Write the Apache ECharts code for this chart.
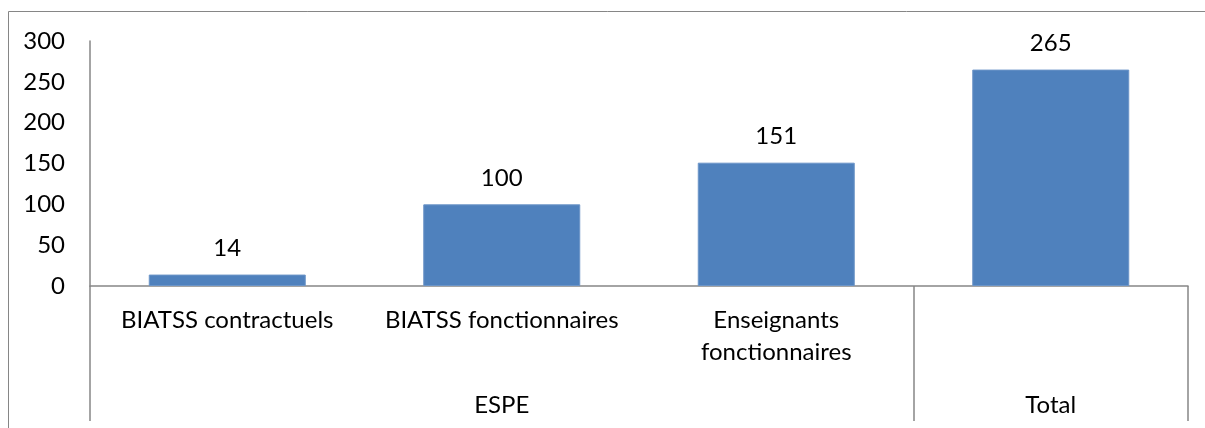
<!DOCTYPE html>
<html>
<head>
<meta charset="utf-8">
<script src="https://cdn.jsdelivr.net/npm/echarts@6/dist/echarts.min.js"></script>
<style>
  html, body { margin: 0; padding: 0; background: #fff; }
  #chart { width: 1205px; height: 428px; }
</style>
</head>
<body>
<div id="chart"></div>
<script>
// données
const categories = ['BIATSS contractuels', 'BIATSS fonctionnaires', 'Enseignants\nfonctionnaires', 'Total'];
const values = [14, 100, 151, 265];
const groups = ['ESPE', 'Total'];
const groupCenters = [1.5, 3.5];   // milieu de chaque groupe (en nb de catégories)
const groupBounds = [0, 3, 4];     // séparateurs des groupes
const yTicks = [0, 300, 50];       // min, max, pas

const font = 'Lato, "Open Sans", sans-serif';
const fontSize = 24;
const axisGrey = '#868686';

const chart = echarts.init(document.getElementById('chart'));
chart.setOption({
  animation: false,
  textStyle: { fontFamily: font },
  graphic: [{
    type: 'rect',
    shape: { x: 8.5, y: 11.5, width: 1210, height: 440 },
    style: { fill: 'none', stroke: axisGrey, lineWidth: 1 },
    silent: true
  }],
  grid: {
    left: 90,
    right: 17,
    top: 41,
    bottom: 142
  },
  xAxis: [
    {
      type: 'category',
      data: categories,
      axisLine: { lineStyle: { color: axisGrey, width: 1.5 } },
      axisTick: { show: false },
      axisLabel: {
        color: '#000',
        fontFamily: font,
        fontSize: fontSize,
        lineHeight: 32,
        margin: 18,
        interval: 0,
        // la colonne Total n'a pas de libellé au 1er niveau
        formatter: (v, i) => (i === categories.length - 1 ? '' : v)
      }
    },
    {
      // deuxième niveau : groupes ESPE / Total
      type: 'value',
      position: 'bottom',
      min: 0,
      max: categories.length,
      axisLine: { show: false },
      splitLine: { show: false },
      axisTick: {
        show: true,
        length: 135,
        customValues: groupBounds,
        lineStyle: { color: axisGrey, width: 1.5 }
      },
      axisLabel: {
        color: '#000',
        fontFamily: font,
        fontSize: fontSize,
        lineHeight: 32,
        margin: 103,
        customValues: groupCenters,
        formatter: (v) => groups[groupCenters.indexOf(v)]
      }
    }
  ],
  yAxis: {
    type: 'value',
    min: yTicks[0],
    max: yTicks[1],
    interval: yTicks[2],
    axisLine: { show: true, lineStyle: { color: axisGrey, width: 1.5 } },
    axisTick: { show: false },
    splitLine: { show: false },
    axisLabel: {
      color: '#000',
      fontFamily: font,
      fontSize: fontSize,
      margin: 25
    }
  },
  series: [
    {
      type: 'bar',
      data: values,
      xAxisIndex: 0,
      barWidth: 157,
      itemStyle: {
        color: '#4F81BD',
        borderColor: '#6C95C8',
        borderWidth: 1
      },
      label: {
        show: true,
        position: 'top',
        distance: 14,
        color: '#000',
        fontFamily: font,
        fontSize: fontSize
      }
    }
  ]
});
</script>
</body>
</html>
